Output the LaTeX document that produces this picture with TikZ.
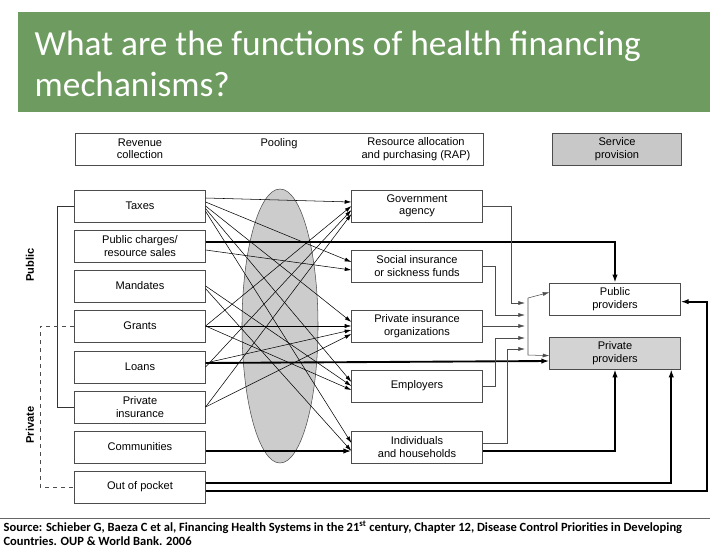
\documentclass[tikz,border=0pt]{standalone}
\usepackage{fontspec}
\setmainfont{Liberation Sans}
\newfontfamily\titlefont{Carlito}
\usetikzlibrary{arrows.meta}
\definecolor{banner}{RGB}{110,156,96}
\definecolor{boxgray}{RGB}{200,200,200}
\begin{document}
\begin{tikzpicture}[x=0.75pt,y=-0.75pt,
 box/.style={draw=black!70,minimum width=98pt,minimum height=24pt,inner sep=1pt,align=center,font=\fontsize{8.3}{9.3}\selectfont},
 thin arr/.style={-{Latex[length=5pt,width=3pt]},thin},
 thick arr/.style={-{Latex[length=6pt,width=4pt]},line width=1.4pt}]
 \useasboundingbox (0,0) rectangle (728,546);
 \fill[banner] (18,12) rectangle (710,112);
 \node[anchor=north west,text=white,align=left,font=\titlefont\fontsize{26.5}{31}\selectfont] (title) at (30,26) {What are the functions of health financing\\mechanisms?};
 % header
 \draw[black!70] (75,133) rectangle (483,165);
 \node[font=\fontsize{8.3}{9.3}\selectfont,align=center] (hrev) at (140,149) {Revenue\\collection};
 \node[font=\fontsize{8.3}{9.3}\selectfont] (hpool) at (279,144) {Pooling};
 \node[font=\fontsize{8.3}{9.3}\selectfont,align=center] (hrap) at (416,149) {Resource allocation\\and purchasing (RAP)};
 \node[box,fill=boxgray,minimum width=97pt] (hserv) at (617,149) {Service\\provision};
 % pooling
 \draw[fill=black!20,draw=black!70] (280,326) ellipse (38 and 137);
 % revenue collection
 \node[box] (tax) at (140,206) {Taxes};
 \node[box] (pch) at (140,246) {Public charges/\\resource sales};
 \node[box] (mand) at (140,286) {Mandates};
 \node[box] (grant) at (140,326) {Grants};
 \node[box] (loan) at (140,367) {Loans};
 \node[box] (pins) at (140,407) {Private\\insurance};
 \node[box] (comm) at (140,447) {Communities};
 \node[box] (oop) at (140,487) {Out of pocket};
 % RAP
 \node[box] (gov) at (417,206) {Government\\agency};
 \node[box] (soc) at (417,266) {Social insurance\\or sickness funds};
 \node[box] (pio) at (417,326) {Private insurance\\organizations};
 \node[box] (emp) at (417,386) {Employers};
 \node[box] (ind) at (417,447) {Individuals\\and households};
 % providers
 \node[box] (pub) at (615,299) {Public\\providers};
 \node[box,fill=boxgray!80] (priv) at (615,353) {Private\\providers};
 % side labels
 \node[rotate=90,font=\bfseries\fontsize{8.3}{9.3}\selectfont] (lpub) at (30,265) {Public};
 \node[rotate=90,font=\bfseries\fontsize{8.3}{9.3}\selectfont] (lpriv) at (30,425) {Private};
 \draw[black!80] (tax.west) -- ++(-17,0) |- (pins.west);
 \draw[black!70,dashed] (grant.west) -- ++(-34,0) |- (oop.west);
 % revenue to RAP
 \draw[thin arr] ([yshift=6pt]tax.east) -- ([yshift=3pt]gov.west);
 \draw[thin arr] ([yshift=3pt]tax.east) -- ([yshift=3pt]soc.west);
 \draw[thin arr] (tax.east) -- ([yshift=3pt]pio.west);
 \draw[thin arr] ([yshift=-2pt]tax.east) -- ([yshift=3pt]emp.west);
 \draw[thin arr] ([yshift=-4pt]tax.east) -- ([yshift=3pt]ind.west);
 \draw[thin arr] ([yshift=-3pt]pch.east) -- ([yshift=-3pt]soc.west);
 \draw[thin arr] (mand.east) -- (emp.west);
 \draw[thin arr] ([yshift=-2pt]mand.east) -- ([yshift=-3pt]ind.west);
 \draw[thin arr] (grant.east) -- (gov.west);
 \draw[thin arr] (grant.east) -- (pio.west);
 \draw[thin arr] (grant.east) -- ([yshift=-3pt]emp.west);
 \draw[thin arr] (loan.east) -- ([yshift=-3pt]gov.west);
 \draw[thin arr] ([yshift=3pt]loan.east) -- ([yshift=-3pt]pio.west);
 \draw[thin arr] (pins.east) -- ([yshift=-6pt]gov.west);
 \draw[thin arr] (pins.east) -- ([yshift=-6pt]pio.west);
 % thick direct flows
 \draw[thick arr] ([yshift=3pt]pch.east) -| (pub.north);
 \draw[thick arr] ([yshift=3pt]loan.east) -- ([yshift=-6pt]priv.west);
 \draw[thick arr] ([yshift=-3pt]comm.east) -- ([yshift=-3pt]ind.west);
 \draw[thick arr] ([yshift=-3pt]ind.east) -| (priv.south);
 \draw[thick arr] ([yshift=3pt]oop.east) -| ([xshift=-7pt]priv.south east);
 \draw[thick arr] ([yshift=-3pt]oop.east) -| ++(501,0) |- ([yshift=-2pt]pub.east);
 % RAP to providers
 \draw[black!70,thin arr] (gov.east) -| (511,303) -- (525,303);
 \draw[black!70,thin arr] (soc.east) -| (495,315) -- (525,315);
 \draw[black!70,thin arr] (pio.east) -- (525,326);
 \draw[black!70,thin arr] (emp.east) -| (495,338) -- (525,338);
 \draw[black!70,thin arr] ([yshift=3pt]ind.east) -| (507,349) -- (525,349);
 \draw[black!70,thin arr] (528,298) -- ([yshift=5pt]pub.west);
 \draw[black!70,thin arr] (528,298) -- (528,355) -- ([yshift=-2pt]priv.west);
 % source
 \draw[black!60] (0,518) -- (710,518);
 \node[anchor=north west,align=left,inner sep=1pt,font=\titlefont\bfseries\fontsize{9.4}{10.8}\selectfont] (src) at (2,519) {Source: Schieber G, Baeza C et al, Financing Health Systems in the 21\textsuperscript{st} century, Chapter 12, Disease Control Priorities in Developing\\Countries. OUP \& World Bank. 2006};
\end{tikzpicture}
\end{document}
